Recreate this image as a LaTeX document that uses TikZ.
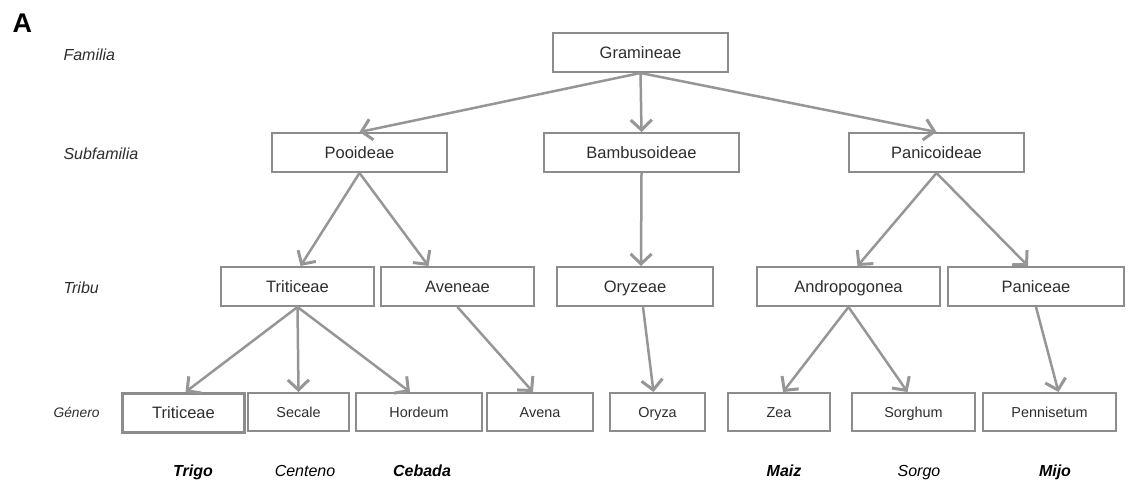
\documentclass[tikz,border=0pt]{standalone}
\usepackage{fontspec}
\setmainfont{Liberation Sans}
\usetikzlibrary{arrows.meta}

\definecolor{boxgray}{RGB}{140,140,140}
\definecolor{arrgray}{RGB}{150,150,150}
\definecolor{txtgray}{RGB}{45,45,45}

\begin{document}
\begin{tikzpicture}[x=1pt,y=-1pt,
  taxon/.style={draw=boxgray, line width=2pt, text=txtgray, font=\fontsize{16.5}{18}\selectfont,
    minimum height=39pt, inner sep=0pt, text height=12pt, text depth=0.5pt},
  genus/.style={taxon, font=\fontsize{14.4}{16}\selectfont, minimum height=38pt,
    text height=10.5pt, text depth=0pt},
  rank/.style={anchor=west, text=txtgray, font=\fontsize{16}{18}\selectfont\itshape},
  common/.style={anchor=base, text=black, font=\fontsize{16}{18}\selectfont\itshape},
  arr/.style={draw=arrgray, line width=2.5pt,
    -{Straight Barb[length=10pt,width=21pt,line width=3pt]}}]
\useasboundingbox (0,0) rectangle (1129,488);
% ranks
\node[anchor=west, font=\fontsize{27}{30}\selectfont\bfseries] (lblA) at (9,23) {A};
\node[rank] (famlbl) at (60,55) {Familia};
\node[rank] (subflbl) at (60,154) {Subfamilia};
\node[rank] (triblbl) at (60,288) {Tribu};
\node[rank, font=\fontsize{13.8}{16}\selectfont\itshape] (genlbl) at (50,412) {Género};
% family and subfamilies
\node[taxon, minimum width=175pt] (gram) at (640.5,52.5) {Gramineae};
\node[taxon, minimum width=175pt] (pooi) at (359.5,152.5) {Pooideae};
\node[taxon, minimum width=195pt] (bamb) at (641.5,152.5) {Bambusoideae};
\node[taxon, minimum width=175pt] (pani) at (936.5,152.5) {Panicoideae};
% tribes
\node[taxon, minimum width=153pt] (trit) at (297.5,286.5) {Triticeae};
\node[taxon, minimum width=153pt] (aven) at (457.5,286.5) {Aveneae};
\node[taxon, minimum width=156pt] (oryz) at (635,286.5) {Oryzeae};
\node[taxon, minimum width=183pt] (andr) at (848.5,286.5) {Andropogonea};
\node[taxon, minimum width=176pt] (panc) at (1036,286.5) {Paniceae};
% genera
\node[taxon, line width=3pt, minimum width=122pt, minimum height=39pt] (gtrit) at (183.5,413) {Triticeae};
\node[genus, minimum width=101pt] (secale) at (298.5,412) {Secale};
\node[genus, minimum width=126pt] (hord) at (419,412) {Hordeum};
\node[genus, minimum width=106pt] (avena) at (540,412) {Avena};
\node[genus, minimum width=95pt] (oryza) at (657.5,412) {Oryza};
\node[genus, minimum width=102pt] (zea) at (779,412) {Zea};
\node[genus, minimum width=123pt] (sorg) at (913.5,412) {Sorghum};
\node[genus, minimum width=133pt] (penn) at (1049.5,412) {Pennisetum};
% common names
\node[common, font=\fontsize{16}{18}\selectfont\itshape\bfseries] (trigo) at (193,476) {Trigo};
\node[common] (centeno) at (305,476) {Centeno};
\node[common, font=\fontsize{16}{18}\selectfont\itshape\bfseries] (cebada) at (422,476) {Cebada};
\node[common, font=\fontsize{16}{18}\selectfont\itshape\bfseries] (maiz) at (784,476) {Maiz};
\node[common] (sorgo) at (919,476) {Sorgo};
\node[common, font=\fontsize{16}{18}\selectfont\itshape\bfseries] (mijo) at (1055,476) {Mijo};
% arrows
\draw[arr] (gram.south) -- (pooi.north);
\draw[arr] (gram.south) -- (bamb.north);
\draw[arr] (gram.south) -- (pani.north);
\draw[arr] (pooi.south) -- ([xshift=3pt]trit.north);
\draw[arr] (pooi.south) -- ([xshift=-29pt]aven.north);
\draw[arr] (bamb.south) -- ([xshift=6pt]oryz.north);
\draw[arr] (pani.south) -- ([xshift=9pt]andr.north);
\draw[arr] (pani.south) -- ([xshift=-8pt]panc.north);
\draw[arr] (trit.south) -- ([xshift=2pt]gtrit.north);
\draw[arr] (trit.south) -- (secale.north);
\draw[arr] (trit.south) -- ([xshift=-9pt]hord.north);
\draw[arr] (aven.south) -- ([xshift=-7pt]avena.north);
\draw[arr] ([xshift=8pt]oryz.south) -- ([xshift=-4pt]oryza.north);
\draw[arr] (andr.south) -- ([xshift=4pt]zea.north);
\draw[arr] (andr.south) -- ([xshift=-6pt]sorg.north);
\draw[arr] (panc.south) -- ([xshift=9pt]penn.north);
\end{tikzpicture}
\end{document}
